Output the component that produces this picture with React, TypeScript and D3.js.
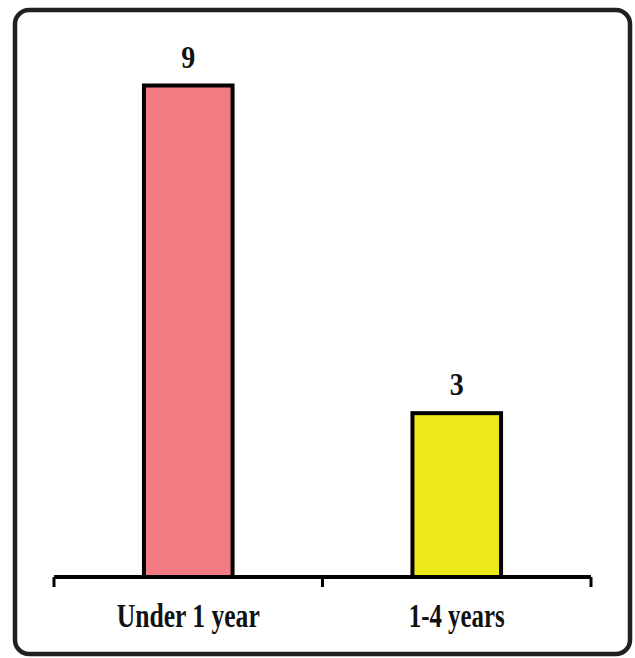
import React from "react";
import * as d3 from "d3";

const categories = ["Under 1 year", "1-4 years"];
const values = [9, 3];
const colors = ["#f27a82", "#f0e91a"];

const W = 635;
const H = 658;
const axisY = 577;
const left = 54;
const right = 591;

export default function App() {
  const x = d3.scaleBand<string>().domain(categories).range([left, right]).padding(0);
  const y = d3.scaleLinear().domain([0, 9]).range([axisY, 85.5]);
  const bw = x.bandwidth();
  const barW = bw * 0.33;
  const labelWidths = [143, 96];
  const ticks = [left, ...categories.map((c) => (x(c) as number) + bw)];
  const font = "'Liberation Serif', 'Times New Roman', Times, serif";

  return (
    <svg
      width={W}
      height={H}
      style={{ position: "absolute", left: 0, top: 0, background: "#fff" }}
    >
      <rect x={15} y={10} width={615} height={644} rx={14} ry={14} fill="none" stroke="#231f20" strokeWidth={4.5} />
      {categories.map((c, i) => {
        const cx = (x(c) as number) + bw / 2;
        return (
          <g key={c}>
            <rect
              x={cx - barW / 2}
              y={y(values[i])}
              width={barW}
              height={axisY - y(values[i])}
              fill={colors[i]}
              stroke="#000"
              strokeWidth={4}
            />
            <text
              x={cx}
              y={y(values[i]) - 18}
              textAnchor="middle"
              fontFamily={font}
              fontWeight="bold"
              fontSize={32}
              fill="#111"
              textLength={14}
              lengthAdjust="spacingAndGlyphs"
            >
              {values[i]}
            </text>
            <text
              x={cx}
              y={627}
              textAnchor="middle"
              fontFamily={font}
              fontWeight="bold"
              fontSize={33}
              fill="#111"
              textLength={labelWidths[i]}
              lengthAdjust="spacingAndGlyphs"
            >
              {c}
            </text>
          </g>
        );
      })}
      <line x1={left} x2={right} y1={axisY} y2={axisY} stroke="#000" strokeWidth={4} />
      {ticks.map((t, i) => (
        <line key={i} x1={t} x2={t} y1={axisY} y2={axisY + 10} stroke="#000" strokeWidth={3} />
      ))}
    </svg>
  );
}
